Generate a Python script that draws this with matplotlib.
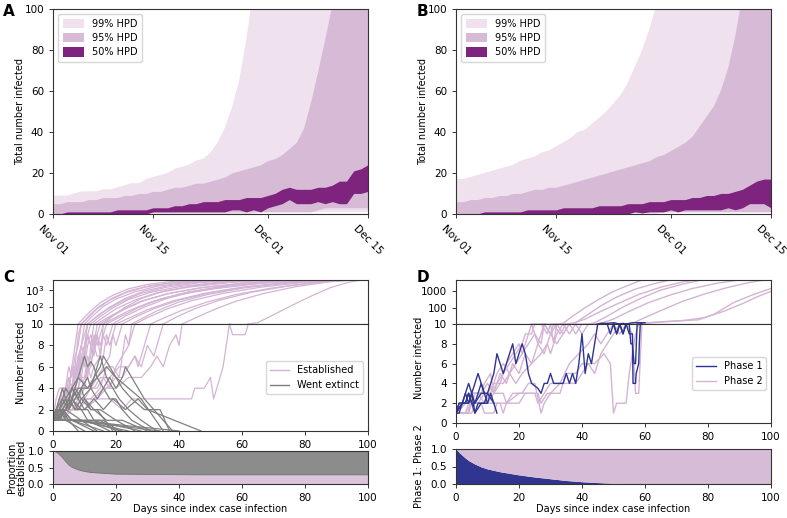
import numpy as np
import pandas as pd
import matplotlib
matplotlib.use("Agg")
import matplotlib.pyplot as plt
import matplotlib.dates as mdates
from matplotlib.lines import Line2D
from matplotlib.ticker import NullLocator, ScalarFormatter

# === Colours ===
C99 = "#efe1ed"
C95 = "#d6bad6"
C50 = "#7e237e"
EST = "#d4b4d4"
EXT = "#7f7f7f"
PH1 = "#2d3592"
PH2 = "#d4b4d4"

# === Panel A / B : HPD bands, one value per day from Nov 01 to Dec 15 ===
a_99_lo = [0] * 29 + [1] * 16
a_99_hi = [9, 9, 9, 10, 11, 11, 11, 12, 12, 13, 14, 15, 15, 17, 18, 19, 20, 22, 23, 24,
           26, 27, 30, 35, 42, 52, 65, 85, 110, 140, 180, 220, 270, 330, 400, 480, 570,
           680, 800, 950, 1100, 1300, 1500, 1750, 2000]
a_95_lo = [0] * 14 + [1] * 23 + [2] + [3] * 7
a_95_hi = [5, 5, 6, 6, 6, 7, 7, 8, 8, 8, 9, 9, 10, 10, 11, 11, 12, 13, 13, 14, 15, 15,
           16, 17, 18, 20, 21, 22, 23, 24, 26, 27, 29, 32, 35, 42, 55, 70, 86, 103, 125,
           150, 175, 200, 230]
a_50_lo = [0] * 14 + [1] * 11 + [2, 2, 1, 2, 1, 3, 4, 5, 7, 5, 5, 5, 6, 5, 6, 5, 5, 10, 10, 11]
a_50_hi = [0, 0, 1, 1, 1, 1, 1, 1, 1, 2, 2, 2, 2, 2, 3, 3, 3, 4, 4, 5, 5, 6, 6, 6, 7, 7,
           7, 8, 8, 8, 9, 10, 12, 13, 12, 12, 12, 13, 13, 14, 16, 16, 21, 22, 24]

b_99_lo = [0] * 29 + [1] * 16
b_99_hi = [17, 17, 18, 19, 20, 21, 22, 23, 24, 26, 27, 28, 30, 31, 33, 35, 37, 40, 41, 44,
           47, 50, 54, 58, 64, 72, 80, 90, 102, 118, 135, 155, 180, 210, 240, 280, 320,
           370, 420, 480, 550, 630, 720, 820, 930]
b_95_lo = [0] * 14 + [1] * 31
b_95_hi = [6, 6, 7, 7, 8, 8, 9, 9, 10, 10, 11, 12, 12, 13, 13, 14, 15, 16, 17, 18, 19, 20,
           21, 22, 23, 24, 25, 26, 28, 29, 31, 33, 35, 38, 43, 48, 53, 61, 72, 88, 108,
           130, 150, 170, 190]
b_50_lo = [0] * 25 + [1, 0.5, 1, 1, 1, 2, 1, 2, 2, 2, 2, 2, 2, 3, 2, 3, 5, 5, 5, 3]
b_50_hi = [0, 0, 0, 0, 1, 1, 1, 1, 1, 1, 2, 2, 2, 2, 2, 3, 3, 3, 3, 3, 4, 4, 4, 4, 5, 5,
           5, 6, 6, 6, 7, 7, 7, 8, 8, 9, 9, 10, 10, 11, 12, 14, 16, 17, 17]

date_ticks = ["2020-11-01", "2020-11-15", "2020-12-01", "2020-12-15"]

# === Panel C : simulated trajectories (day, number infected) ===
established = [
    [(0, 1), (1, 2), (2, 2), (3, 3), (4, 4), (5, 4), (6, 6), (7, 8), (8, 10), (10, 25), (12, 60),
     (15, 180), (19, 500), (24, 1200), (30, 2200), (38, 3300), (48, 4200)],
    [(0, 1), (1, 1), (2, 3), (3, 4), (4, 4), (5, 5), (6, 4), (7, 6), (8, 9), (9, 10), (12, 40),
     (15, 120), (19, 350), (24, 900), (31, 1900), (40, 3000), (52, 4100)],
    [(0, 1), (2, 2), (3, 2), (4, 4), (6, 4), (7, 5), (8, 7), (9, 8), (10, 10), (13, 35), (16, 110),
     (20, 300), (26, 800), (33, 1700), (42, 2800), (55, 4000)],
    [(0, 1), (1, 2), (3, 2), (4, 3), (6, 3), (7, 5), (8, 6), (9, 8), (10, 9), (11, 10), (14, 30),
     (18, 100), (23, 330), (29, 900), (37, 1900), (47, 3100), (60, 4200)],
    [(0, 1), (1, 1), (2, 2), (4, 2), (5, 4), (7, 4), (8, 6), (9, 5), (10, 7), (11, 9), (12, 10),
     (15, 28), (19, 90), (24, 280), (31, 750), (40, 1600), (52, 2900), (66, 4100)],
    [(0, 1), (2, 2), (3, 4), (5, 4), (6, 6), (7, 5), (8, 7), (9, 6), (10, 8), (11, 9), (12, 8),
     (13, 10), (16, 25), (20, 80), (26, 260), (33, 700), (43, 1500), (56, 2800), (70, 4200)],
    [(0, 1), (1, 2), (2, 3), (3, 3), (5, 4), (6, 3), (8, 5), (9, 7), (10, 6), (11, 8), (12, 9),
     (13, 8), (14, 10), (17, 22), (22, 70), (28, 220), (36, 600), (46, 1300), (60, 2600), (76, 4100)],
    [(0, 1), (1, 1), (3, 2), (5, 2), (6, 3), (8, 4), (9, 6), (10, 7), (11, 5), (12, 8), (13, 7),
     (14, 9), (15, 10), (18, 24), (23, 80), (29, 250), (37, 650), (48, 1500), (62, 2800), (78, 4100)],
    [(0, 1), (2, 2), (3, 3), (4, 4), (6, 4), (7, 6), (8, 6), (9, 8), (10, 7), (11, 9), (12, 8),
     (14, 9), (15, 7), (16, 10), (19, 20), (24, 60), (31, 200), (40, 550), (51, 1200), (65, 2400),
     (82, 4000)],
    [(0, 1), (1, 2), (2, 2), (4, 3), (6, 3), (7, 4), (9, 4), (10, 5), (11, 7), (12, 6), (13, 8),
     (14, 9), (15, 8), (16, 9), (17, 10), (21, 25), (27, 90), (34, 300), (43, 800), (55, 1800),
     (70, 3200), (85, 4200)],
    [(0, 1), (2, 2), (4, 2), (5, 3), (7, 3), (8, 4), (10, 4), (11, 6), (12, 5), (13, 6), (15, 7),
     (16, 9), (17, 8), (18, 9), (19, 10), (23, 30), (29, 100), (36, 320), (45, 850), (57, 1900),
     (72, 3300), (88, 4300)],
    [(0, 1), (1, 1), (2, 3), (4, 3), (5, 4), (7, 4), (8, 5), (10, 5), (12, 6), (13, 8), (14, 7),
     (16, 7), (17, 9), (18, 8), (19, 9), (20, 10), (24, 22), (30, 70), (38, 230), (48, 650),
     (60, 1500), (75, 2900), (92, 4200)],
    [(0, 1), (1, 2), (3, 2), (5, 3), (8, 3), (10, 4), (12, 4), (14, 5), (16, 6), (18, 7), (19, 9),
     (20, 8), (21, 9), (22, 10), (26, 25), (32, 80), (40, 260), (50, 700), (62, 1600), (78, 3000),
     (95, 4200)],
    [(0, 1), (2, 1), (4, 2), (7, 2), (9, 3), (12, 3), (15, 4), (17, 6), (19, 6), (21, 5), (22, 7),
     (24, 8), (25, 9), (26, 10), (30, 24), (36, 75), (44, 240), (54, 650), (66, 1500), (80, 2900),
     (94, 4100)],
    [(0, 1), (3, 1), (5, 2), (8, 2), (11, 3), (14, 3), (17, 4), (20, 5), (22, 5), (24, 6), (26, 7),
     (27, 6), (29, 8), (30, 9), (31, 10), (35, 22), (41, 65), (49, 200), (58, 550), (69, 1300),
     (82, 2700), (96, 4100)],
    [(0, 1), (3, 2), (6, 2), (9, 3), (13, 3), (16, 4), (20, 4), (24, 5), (28, 5), (31, 6), (33, 7),
     (35, 6), (37, 8), (39, 9), (40, 8), (41, 10), (45, 22), (51, 70), (58, 220), (67, 650),
     (77, 1600), (88, 3200), (98, 4300)],
    [(0, 1), (3, 1), (6, 2), (10, 2), (14, 3), (18, 3), (22, 2), (25, 3), (30, 3), (40, 3), (44, 3),
     (45, 4), (48, 4), (50, 5), (51, 3), (52, 4), (53, 5), (54, 6), (55, 8), (56, 10), (57, 9),
     (61, 9), (62, 10), (65, 12), (70, 35), (76, 130), (82, 450), (88, 1400), (94, 3000), (99, 4300)],
    [(0, 1), (1, 3), (2, 4), (4, 4), (5, 6), (6, 5), (7, 7), (8, 8), (9, 10), (11, 22), (14, 80),
     (18, 260), (23, 700), (29, 1500), (37, 2600), (47, 3800)],
    [(0, 1), (2, 1), (3, 3), (5, 3), (6, 4), (8, 4), (9, 5), (10, 4), (11, 6), (12, 7), (13, 9),
     (14, 8), (15, 9), (16, 10), (19, 30), (23, 100), (28, 320), (35, 850), (44, 1800), (56, 3100),
     (68, 4200)],
    [(0, 1), (1, 2), (2, 1), (4, 2), (6, 2), (8, 3), (10, 3), (12, 4), (14, 4), (16, 5), (18, 4),
     (20, 6), (22, 7), (23, 9), (24, 8), (25, 10), (28, 20), (33, 60), (40, 200), (49, 550),
     (60, 1300), (73, 2600), (86, 4000)],
    [(0, 1), (2, 2), (3, 2), (4, 3), (5, 5), (6, 4), (7, 6), (8, 5), (9, 7), (10, 8), (11, 10),
     (13, 20), (17, 70), (22, 230), (28, 650), (36, 1500), (46, 2700), (58, 4000)],
    [(0, 1), (2, 1), (4, 2), (6, 3), (8, 3), (10, 4), (13, 4), (15, 5), (18, 5), (21, 6), (24, 6),
     (26, 7), (28, 6), (30, 8), (32, 7), (34, 9), (35, 10), (39, 25), (45, 80), (53, 260),
     (63, 750), (75, 1800), (89, 3600), (100, 4300)],
]

extinct = [
    [(0, 1), (2, 2), (4, 3), (5, 2), (7, 4), (8, 5), (10, 7), (11, 6), (12, 6.5), (13, 6), (14, 5),
     (16, 4), (18, 3), (20, 3), (22, 2), (25, 1), (31, 0)],
    [(0, 1), (1, 2), (3, 2), (5, 3), (6, 4), (8, 3), (9, 4), (11, 5), (12, 4), (14, 6), (15, 7),
     (16, 6), (17, 5), (19, 4), (21, 3), (24, 2), (28, 1), (33, 0)],
    [(0, 1), (2, 1), (3, 2), (5, 3), (7, 2), (9, 3), (12, 4), (14, 3), (16, 4), (18, 5), (20, 4),
     (22, 5), (23, 6), (25, 5), (27, 4), (29, 3), (32, 2), (38, 0)],
    [(0, 1), (1, 2), (2, 1), (4, 2), (5, 3), (6, 4), (8, 3), (10, 2), (13, 3), (16, 2), (19, 3),
     (23, 2), (27, 3), (30, 2), (47, 0)],
    [(0, 1), (1, 2), (3, 3), (4, 4), (6, 3), (7, 4), (9, 3), (12, 2), (15, 2), (20, 1), (26, 0)],
    [(0, 1), (2, 2), (4, 2), (6, 3), (8, 2), (10, 3), (13, 2), (17, 1), (22, 1), (30, 0)],
    [(0, 1), (1, 2), (2, 1), (3, 2), (5, 1), (9, 1), (14, 0)],
    [(0, 1), (1, 2), (3, 2), (6, 1), (11, 1), (18, 0)],
    [(0, 1), (2, 1), (5, 1), (8, 0)],
    [(0, 1), (1, 2), (2, 1), (4, 1), (10, 0)],
    [(0, 1), (1, 1), (4, 2), (9, 1), (22, 0)],
    [(0, 1), (3, 1), (12, 1), (28, 0)],
    [(0, 1), (2, 2), (5, 1), (7, 1), (40, 0)],
    [(0, 1), (1, 2), (2, 3), (3, 4), (4, 3), (6, 4), (8, 5), (11, 4), (14, 5), (17, 6), (20, 5),
     (24, 4), (28, 3), (35, 0)],
    [(0, 1), (4, 2), (6, 3), (8, 4), (11, 4), (13, 5), (15, 6), (16, 7), (18, 6), (20, 5), (22, 4),
     (25, 3), (29, 2), (34, 2), (37, 0)],
    [(0, 1), (1, 1), (3, 2), (4, 2), (5, 3), (7, 2), (9, 2), (11, 1), (15, 1), (20, 0)],
    [(0, 1), (2, 1), (3, 2), (6, 1), (16, 0)],
    [(0, 1), (1, 2), (2, 2), (3, 1), (6, 1), (13, 0)],
    [(0, 1), (1, 2), (2, 2), (4, 3), (5, 2), (7, 3), (9, 4), (10, 3), (12, 2), (14, 2), (19, 0)],
    [(0, 2), (1, 1), (3, 2), (4, 1), (8, 1), (24, 0)],
    [(0, 1), (2, 2), (3, 3), (5, 2), (6, 3), (9, 2), (11, 2), (13, 1), (16, 1), (21, 0)],
    [(0, 1), (1, 1), (2, 2), (4, 1), (6, 1), (34, 0)],
]

# proportion of simulations still established
prop_days = [0, 1, 2, 3, 4, 5, 6, 8, 10, 12, 15, 20, 30, 46, 100]
prop_established = [1.0, 0.97, 0.9, 0.8, 0.68, 0.58, 0.51, 0.43, 0.38, 0.35, 0.33, 0.3,
                    0.29, 0.28, 0.28]

# === Panel D : trajectories split by phase ===
phase1 = [
    [(0, 1), (2, 2), (3, 2), (4, 3), (5, 2), (6, 1), (7, 2), (9, 2), (10, 3), (11, 4), (12, 5),
     (13, 7), (14, 6), (15, 5), (16, 6), (17, 7), (18, 8), (19, 6), (20, 7), (21, 8), (22, 7),
     (23, 5), (24, 4), (26, 3.5), (27, 3), (28, 4), (29, 4), (30, 5), (31, 4), (33, 4), (34, 4),
     (35, 5), (36, 4), (37, 5), (38, 4), (39, 6), (40, 9), (41, 5), (42, 7), (43, 6), (44, 8),
     (45, 10), (46, 11), (48, 11), (50, 12), (51, 11), (52, 10), (53, 11), (54, 10), (55, 11),
     (56, 12), (58, 12), (60, 12)],
    [(0, 1), (1, 2), (2, 2), (3, 3), (4, 2), (5, 3), (6, 1), (8, 2), (10, 2), (11, 3), (12, 2)],
    [(0, 1), (1, 1), (2, 2), (3, 2), (4, 3), (5, 2), (6, 2), (7, 3), (8, 4), (9, 3), (10, 2)],
    [(0, 1), (2, 2), (3, 3), (4, 4), (5, 3), (6, 4), (7, 5), (8, 4), (9, 3)],
    [(0, 1), (1, 2), (3, 2), (4, 2), (5, 3), (6, 2), (8, 3), (10, 3), (12, 2), (13, 1)],
    [(48, 10), (49, 9), (50, 10), (51, 9), (52, 10), (53, 9), (54, 10), (55, 10), (55.5, 8),
     (56, 8), (56.5, 6), (57, 6), (57.5, 10), (58, 10)],
    [(50, 10), (51, 9), (52, 10), (53, 9), (54, 10), (55, 9), (56, 9), (56.2, 4), (57, 4),
     (57.2, 5), (58, 6), (58.2, 8), (58.5, 10), (59, 11)],
]

phase2 = [
    [(0, 1), (3, 1), (5, 2), (7, 2), (9, 3), (11, 3), (13, 4), (15, 5), (17, 6), (19, 7), (21, 8),
     (22, 9), (24, 9), (25, 10), (27, 10), (29, 9), (30, 10), (31, 8), (32, 10), (34, 11),
     (37, 30), (41, 100), (45, 300), (50, 1000), (55, 2500), (59, 5000)],
    [(0, 1), (4, 1), (5, 3), (8, 3), (9, 4), (11, 5), (12, 3), (14, 4), (16, 6), (18, 7), (20, 8),
     (21, 7), (23, 9), (24, 10), (26, 8), (28, 10), (30, 9), (32, 10), (34, 9), (36, 10),
     (38, 12), (42, 40), (46, 130), (51, 450), (57, 1400), (63, 3000), (68, 5000)],
    [(0, 1), (3, 2), (5, 2), (6, 3), (10, 3), (12, 4), (15, 4), (17, 5), (19, 4), (21, 5), (24, 6),
     (27, 7), (29, 8), (30, 7), (32, 9), (34, 10), (36, 9), (38, 10), (40, 9), (42, 10), (44, 12),
     (48, 30), (53, 110), (59, 400), (65, 1200), (72, 2800), (78, 5000)],
    [(0, 1), (4, 1), (5, 2), (10, 2), (12, 3), (15, 3), (16, 2), (20, 2), (22, 3), (26, 3),
     (27, 2), (29, 3), (33, 3), (34, 4), (38, 4), (40, 5), (42, 6), (44, 5), (46, 7), (48, 8),
     (50, 9), (52, 10), (54, 10), (56, 11), (60, 25), (66, 80), (72, 250), (79, 700), (86, 1700),
     (93, 3500), (98, 5000)],
    [(0, 1), (3, 2), (4, 3), (8, 3), (10, 4), (12, 3), (14, 5), (16, 4), (18, 6), (20, 5), (22, 7),
     (24, 6), (26, 8), (28, 7), (30, 9), (32, 8), (34, 9), (36, 10), (38, 9), (40, 10), (43, 10),
     (46, 11), (50, 20), (55, 60), (61, 200), (68, 600), (75, 1500), (83, 3200), (90, 5000)],
    [(0, 1), (5, 1), (6, 2), (14, 2), (15, 1), (16, 2), (20, 3), (25, 3), (26, 2), (28, 3),
     (30, 4), (34, 4), (35, 5), (38, 5), (40, 6), (44, 6), (47, 7), (49, 6), (50, 1), (51, 2),
     (54, 2), (55, 5), (56, 7), (57, 9), (58, 10), (61, 12), (66, 14), (72, 16), (77, 18),
     (82, 40), (88, 200), (94, 600), (100, 1500)],
    [(0, 1), (2, 2), (4, 2), (5, 3), (7, 3), (9, 2), (11, 3), (13, 5), (15, 6), (17, 5), (19, 6),
     (21, 7), (23, 8), (25, 9), (27, 8), (28, 10), (30, 9), (31, 10), (33, 9), (35, 10), (37, 11),
     (41, 20), (46, 60), (52, 200), (58, 650), (65, 1800), (72, 3800), (76, 5000)],
    [(0, 1), (3, 1), (4, 2), (8, 2), (9, 1), (12, 1), (13, 2), (16, 2), (18, 3), (21, 3), (23, 4),
     (25, 4), (27, 1), (28, 2), (30, 3), (33, 4), (36, 6), (39, 7), (42, 8), (44, 9), (46, 8),
     (48, 9), (50, 10), (52, 9), (54, 10), (56, 9), (57, 3), (58, 3), (59, 10), (62, 12), (67, 14),
     (73, 17), (79, 25), (85, 60), (91, 180), (96, 500), (100, 1000)],
]

phase_days = [0, 1, 2, 3, 4, 6, 8, 10, 14, 20, 25, 30, 35, 40, 45, 50, 55, 58, 100]
phase1_share = [1.0, 0.9, 0.82, 0.74, 0.67, 0.57, 0.49, 0.43, 0.35, 0.26, 0.2, 0.15, 0.1,
                0.065, 0.04, 0.018, 0.005, 0.0, 0.0]

TICK_FS = 7.5
LABEL_FS = 7
SPINE = "#333333"


def style(ax):
    ax.tick_params(labelsize=TICK_FS, width=0.7, length=3, color=SPINE)
    for s in ax.spines.values():
        s.set_color(SPINE)
        s.set_linewidth(0.8)


def hpd_panel(ax, lo99, hi99, lo95, hi95, lo50, hi50):
    dates = pd.date_range("2020-11-01", periods=len(hi99), freq="D")
    ax.fill_between(dates, lo99, hi99, color=C99, lw=0, label="99% HPD")
    ax.fill_between(dates, lo95, hi95, color=C95, lw=0, label="95% HPD")
    ax.fill_between(dates, lo50, hi50, color=C50, lw=0, label="50% HPD")
    ax.set_xlim(dates[0], dates[-1])
    ax.set_ylim(0, 100)
    ax.set_yticks([0, 20, 40, 60, 80, 100])
    ax.set_xticks(pd.to_datetime(date_ticks))
    ax.xaxis.set_major_formatter(mdates.DateFormatter("%b %d"))
    style(ax)
    for lab in ax.get_xticklabels():
        lab.set_rotation(-45)
        lab.set_ha("center")
    ax.set_ylabel("Total number infected", fontsize=LABEL_FS)
    ax.yaxis.set_label_coords(-0.09, 0.5)
    ax.legend(loc="upper left", fontsize=7, handlelength=2.2, handleheight=1.1,
              borderpad=0.5, labelspacing=0.45)


def draw_traj(ax_hi, ax_lo, traj, color, lw):
    d = [p[0] for p in traj]
    v = [p[1] for p in traj]
    ax_hi.plot(d, v, color=color, lw=lw)
    ax_lo.plot(d, v, color=color, lw=lw)


fig = plt.figure(figsize=(7.87, 5.18), dpi=100)

W = 315 / 787
LEFT_L = 53 / 787
LEFT_R = 456 / 787

axA = fig.add_axes([LEFT_L, 0.587, W, 0.3958])
axB = fig.add_axes([LEFT_R, 0.587, W, 0.3958])
hpd_panel(axA, a_99_lo, a_99_hi, a_95_lo, a_95_hi, a_50_lo, a_50_hi)
hpd_panel(axB, b_99_lo, b_99_hi, b_95_lo, b_95_hi, b_50_lo, b_50_hi)

# --- C ---
axC_hi = fig.add_axes([LEFT_L, 1 - 324 / 518, W, 44 / 518])
axC_lo = fig.add_axes([LEFT_L, 1 - 431 / 518, W, 107 / 518])
axC_p = fig.add_axes([LEFT_L, 1 - 484 / 518, W, 33 / 518])

for t in established:
    draw_traj(axC_hi, axC_lo, t, EST, 0.9)
for t in extinct:
    draw_traj(axC_hi, axC_lo, t, EXT, 0.9)

# --- D ---
axD_hi = fig.add_axes([LEFT_R, 1 - 324 / 518, W, 44 / 518])
axD_lo = fig.add_axes([LEFT_R, 1 - 423 / 518, W, 99 / 518])
axD_p = fig.add_axes([LEFT_R, 1 - 484 / 518, W, 35 / 518])

for t in phase2:
    draw_traj(axD_hi, axD_lo, t, PH2, 1.0)
for t in phase1:
    draw_traj(axD_hi, axD_lo, t, PH1, 1.0)

for ax_hi, ax_lo, top in [(axC_hi, axC_lo, 4000), (axD_hi, axD_lo, 5000)]:
    ax_hi.set_yscale("log")
    ax_hi.set_ylim(10, top)
    ax_hi.set_yticks([100, 1000])
    ax_hi.yaxis.set_minor_locator(NullLocator())
    ax_hi.set_xlim(0, 100)
    ax_hi.set_xticks([0, 20, 40, 60, 80, 100])
    ax_hi.tick_params(labelbottom=False)
    style(ax_hi)
    ax_lo.set_ylim(0, 10)
    ax_lo.set_xlim(0, 100)
    ax_lo.set_yticks([0, 2, 4, 6, 8, 10])
    ax_lo.set_xticks([0, 20, 40, 60, 80, 100])
    style(ax_lo)
    ax_lo.set_ylabel("Number infected", fontsize=LABEL_FS)

axD_hi.yaxis.set_major_formatter(ScalarFormatter())
axC_lo.yaxis.set_label_coords(-0.085, 0.64)
axD_lo.yaxis.set_label_coords(-0.1, 0.66)

axC_lo.legend([Line2D([], [], color=EST, lw=1), Line2D([], [], color=EXT, lw=1)],
              ["Established", "Went extinct"], loc="center right", fontsize=7)
axD_lo.legend([Line2D([], [], color=PH1, lw=1), Line2D([], [], color=PH2, lw=1)],
              ["Phase 1", "Phase 2"], loc="center right", fontsize=7)

# proportion panels
axC_p.fill_between(prop_days, 0, prop_established, color="#dcc4dc", lw=0)
axC_p.fill_between(prop_days, prop_established, 1, color="#8c8c8c", lw=0)
axC_p.plot(prop_days, prop_established, color="#777777", lw=0.6)
axC_p.set_ylabel("Proportion\nestablished", fontsize=LABEL_FS, linespacing=0.95)

axD_p.fill_between(phase_days, 0, phase1_share, color="#30368f", lw=0)
axD_p.fill_between(phase_days, phase1_share, 1, color="#d6bcd6", lw=0)
axD_p.set_ylabel("Phase 1: Phase 2", fontsize=LABEL_FS)

for ax in (axC_p, axD_p):
    ax.set_xlim(0, 100)
    ax.set_ylim(0, 1)
    ax.set_yticks([0.0, 0.5, 1.0])
    ax.set_xticks([0, 20, 40, 60, 80, 100])
    style(ax)
    ax.set_xlabel("Days since index case infection", fontsize=LABEL_FS, labelpad=1)

axC_p.yaxis.set_label_coords(-0.085, 0.5)
axD_p.yaxis.set_label_coords(-0.1, 0.5)

# panel letters
letter_font = dict(fontsize=11, fontweight="bold", ha="left", va="top",
                   family=["Liberation Sans Narrow", "DejaVu Sans"])
fig.text(0.004, 0.993, "A", **letter_font)
fig.text(0.529, 0.993, "B", **letter_font)
fig.text(0.004, 0.478, "C", **letter_font)
fig.text(0.529, 0.478, "D", **letter_font)

fig.savefig("out.png", dpi=100)
print("Saved plot to out.png")
